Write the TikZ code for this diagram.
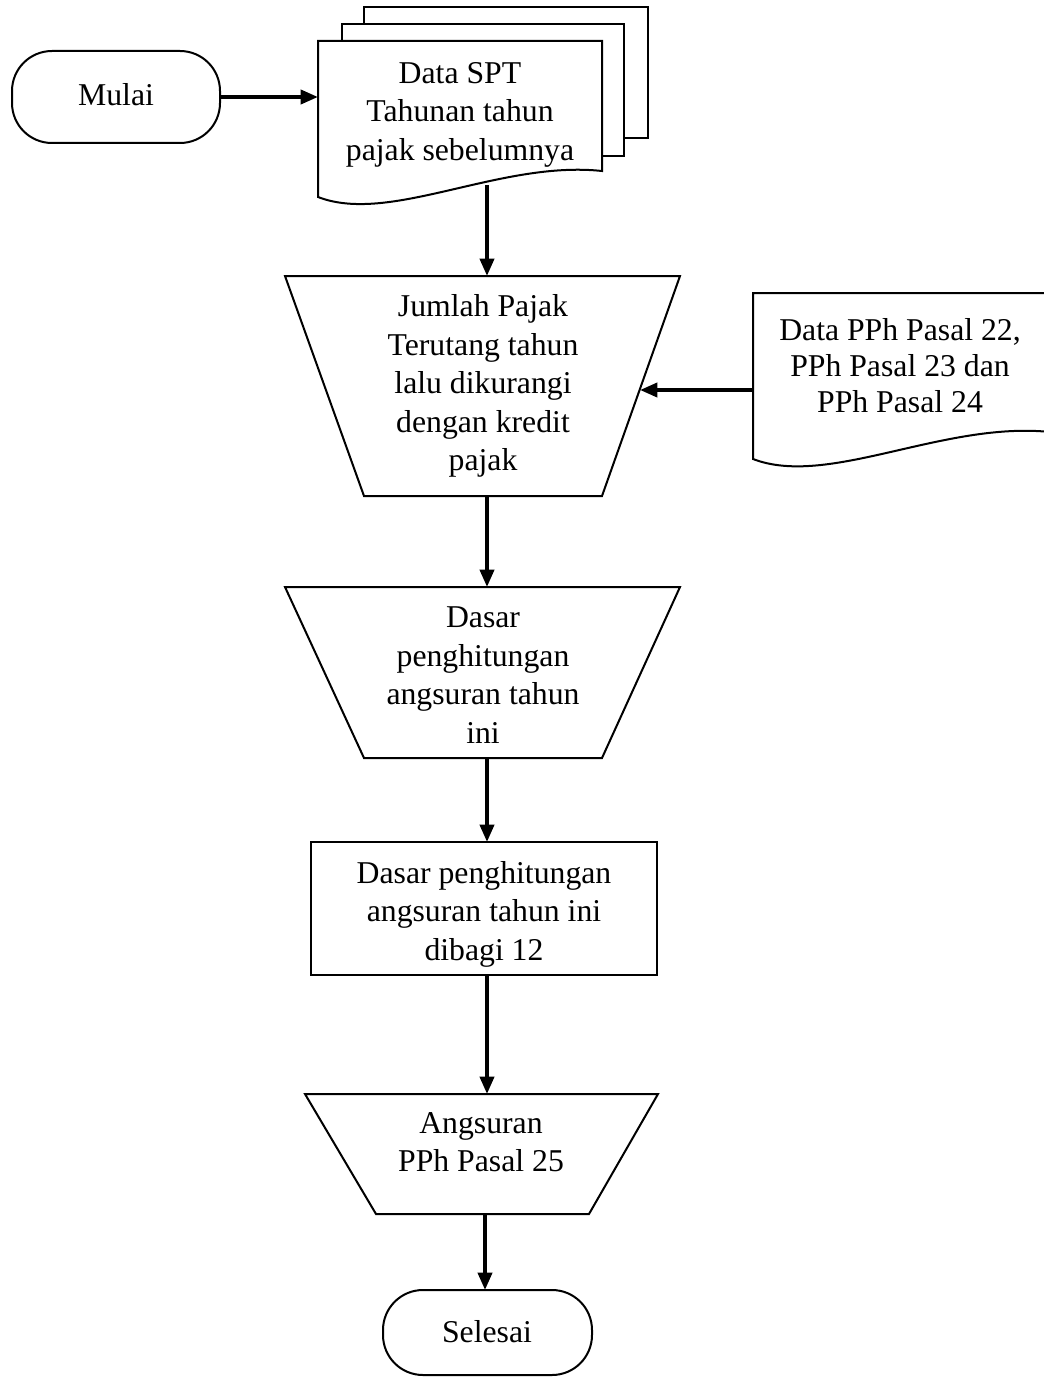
\documentclass[tikz,border=0pt]{standalone}
\usepackage{fontspec}
\setmainfont{Liberation Serif}
\usetikzlibrary{arrows.meta}
\begin{document}
\begin{tikzpicture}[x=0.75pt,y=-0.75pt,
  box/.style={draw=black, line width=1.5pt, fill=white, line join=miter},
  term/.style={box, rounded corners=30pt},
  conn/.style={line width=2.8pt, -{Triangle[length=13pt,width=10.5pt]}},
  lbl/.style={font=\fontsize{23.8}{28.9}\selectfont, align=center, inner sep=0pt},
  lbltight/.style={font=\fontsize{23.8}{27}\selectfont, align=center, inner sep=0pt}]
\clip (0,0) rectangle (1044,1377);
\fill[white] (0,0) rectangle (1044,1377);

% Mulai
\draw[term] (12,51) rectangle (220,143);
\node[lbl] (mulai) at (116,95) {Mulai};
\coordinate (mulaiE) at (220,97);

% stacked documents
\draw[box] (364,7) rectangle (648,138);
\draw[box] (342,24) rectangle (624,156);
\draw[box] (318,197) .. controls (390,225) and (500,160) .. (602,171) -- (602,41) -- (318,41) -- cycle;
\node[lbl] (spt) at (460,114.5) {Data SPT\\Tahunan tahun\\pajak sebelumnya};
\coordinate (sptW) at (318,97);
\coordinate (sptS) at (487,185);

% trapezium 1
\draw[box] (285,276) -- (680,276) -- (602,496) -- (364,496) -- cycle;
\node[lbl] (jumlah) at (483,386) {Jumlah Pajak\\Terutang tahun\\lalu dikurangi\\dengan kredit\\pajak};
\coordinate (jumlahN) at (487,276);
\coordinate (jumlahE) at (640,390);
\coordinate (jumlahS) at (487,496);

% document 2
\draw[box] (753,459) .. controls (828,488) and (943,421) .. (1050,432) -- (1050,293) -- (753,293) -- cycle;
\node[lbltight] (pph) at (900,366) {Data PPh Pasal 22,\\PPh Pasal 23 dan\\PPh Pasal 24};
\coordinate (pphW) at (753,390);

% trapezium 2
\draw[box] (285,587) -- (680,587) -- (602,758) -- (364,758) -- cycle;
\node[lbl] (dasar) at (483,675) {Dasar\\penghitungan\\angsuran tahun\\ini};
\coordinate (dasarN) at (487,587);
\coordinate (dasarS) at (487,758);

% rectangle
\draw[box] (311,842) rectangle (657,975);
\node[lbl] (bagi) at (484,914) {Dasar penghitungan\\angsuran tahun ini\\dibagi 12};
\coordinate (bagiN) at (487,842);
\coordinate (bagiS) at (487,975);

% trapezium 3
\draw[box] (305,1094) -- (658,1094) -- (589,1214) -- (376,1214) -- cycle;
\node[lbl] (angsuran) at (481,1142) {Angsuran\\PPh Pasal 25};
\coordinate (angsuranN) at (487,1094);
\coordinate (angsuranS) at (485,1214);

% Selesai
\draw[term] (383,1290) rectangle (592,1375);
\node[lbl] (selesai) at (487,1332) {Selesai};
\coordinate (selesaiN) at (485,1290);

% connectors
\draw[conn] (mulaiE) -- (sptW);
\draw[conn] (sptS) -- (jumlahN);
\draw[conn] (pphW) -- (jumlahE);
\draw[conn] (jumlahS) -- (dasarN);
\draw[conn] (dasarS) -- (bagiN);
\draw[conn] (bagiS) -- (angsuranN);
\draw[conn] (angsuranS) -- (selesaiN);
\end{tikzpicture}
\end{document}
